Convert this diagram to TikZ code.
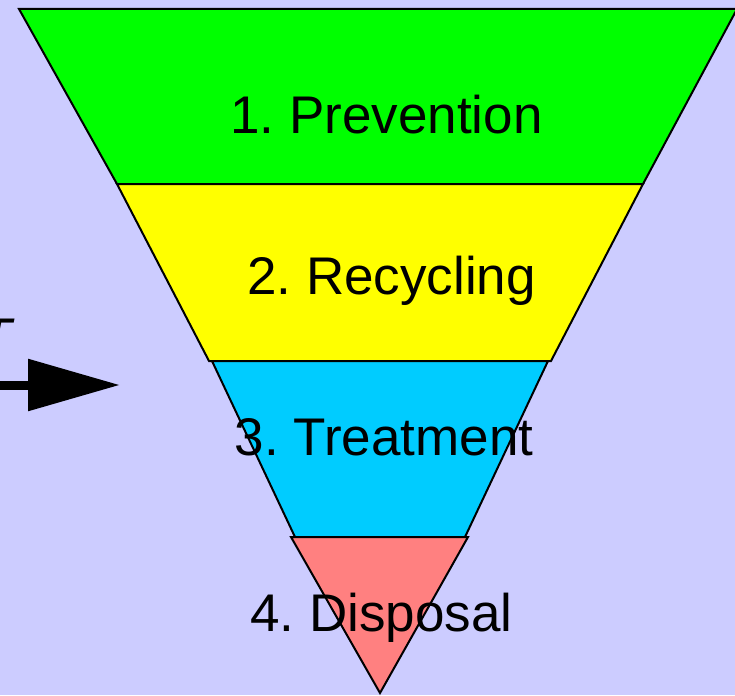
\documentclass[tikz,border=0pt]{standalone}
\usepackage{fontspec}
\setmainfont{Liberation Sans}
\usepackage{tikz}
\usetikzlibrary{arrows.meta}
\frenchspacing

\definecolor{bgblue}{RGB}{204,204,255}
\definecolor{prevgreen}{RGB}{0,255,0}
\definecolor{recyellow}{RGB}{255,255,0}
\definecolor{treatcyan}{RGB}{0,204,255}
\definecolor{disppink}{RGB}{255,128,128}

\begin{document}
\begin{tikzpicture}[x=1pt, y=-1pt,
        layer/.style={draw=black, line width=2pt, line join=miter},
        lbl/.style={anchor=base, inner sep=0pt, font=\fontsize{53}{60}\selectfont}]
        \fill[bgblue] (0, 0) rectangle (735, 695);
        \useasboundingbox (0, 0) rectangle (735, 695);
        \clip (0, 0) rectangle (735, 695);
        % the four layers of the funnel
        \draw[layer, fill=prevgreen] (19, 9) -- (737, 9) -- (643, 184) -- (117, 184) -- cycle;
        \draw[layer, fill=recyellow] (117, 184) -- (643, 184) -- (551, 361) -- (209, 361) -- cycle;
        \draw[layer, fill=treatcyan] (212, 361) -- (548, 361) -- (465, 537) -- (295, 537) -- cycle;
        \draw[layer, fill=disppink] (291, 537) -- (468, 537) -- (380, 693) -- cycle;
        \node[lbl] (prevention) at (386.5, 134) {1. Prevention};
        \node[lbl] (recycling) at (391.5, 294) {2. Recycling};
        \node[lbl] (treatment) at (384, 455) {3. Treatment};
        \node[lbl] (disposal) at (381.5, 631) {4. Disposal};
        % arrow and clipped label on the left
        \node[lbl, font=\itshape\fontsize{53}{60}\selectfont] (side) at (-4, 355) {T};
        \coordinate (arrowstart) at (-20, 385);
        \coordinate (arrowtip) at (120, 385);
        \draw[line width=9pt, -{Triangle[length=92pt, width=50pt]}] (arrowstart) -- (arrowtip);
    \end{tikzpicture}
\end{document}
